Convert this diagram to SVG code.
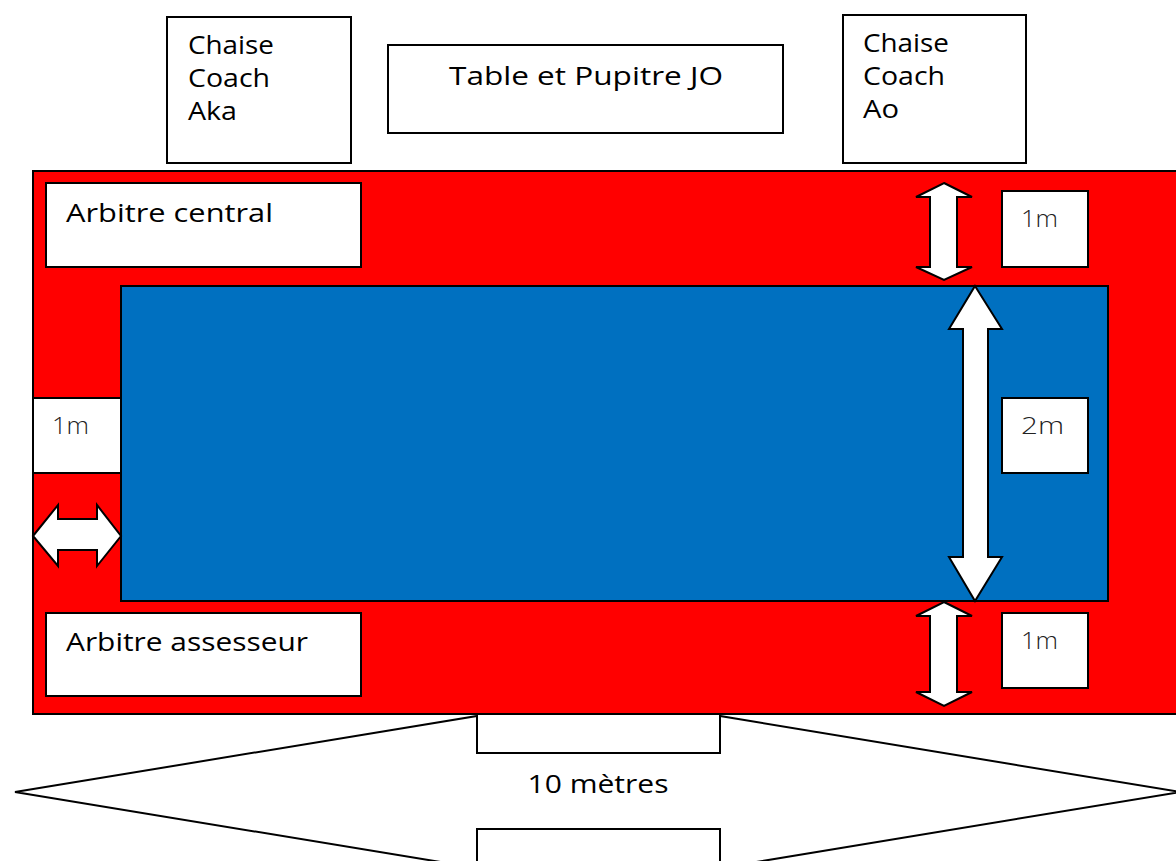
<svg xmlns="http://www.w3.org/2000/svg" width="1176" height="861" viewBox="0 0 1176 861">
<style>
.box{fill:#fff;stroke:#000;stroke-width:2}
.arr{fill:#fff;stroke:#000;stroke-width:2;stroke-linejoin:miter}
.t{font-family:"Open Sans","Liberation Sans",sans-serif;font-size:26px;fill:#000}
.m{font-family:"Open Sans","Liberation Sans",sans-serif;font-size:24px;fill:#222;font-weight:300}
</style>
<rect width="1176" height="861" fill="#fff"/>
<g id="connectors">
<polygon id="arrow-10m" class="arr" points="15,792 477,716 477,753 720,753 720,716 1180,792 720,868 720,829 477,829 477,868"/>
</g>
<g id="tatami-zone">
<rect x="33" y="171" width="1150" height="543" fill="#ff0000" stroke="#000" stroke-width="2"/>
</g>
<g id="tatami-competition">
<rect x="121" y="286" width="987" height="315" fill="#0070c0" stroke="#000" stroke-width="2"/>
</g>
<g id="connectors-dim">
<polygon class="arr" points="944,183 972,197 957,197 957,267 972,267 944,280 916,267 930,267 930,197 916,197"/>
<polygon class="arr" points="944,602 972,616 957,616 957,692 972,692 944,706 916,692 930,692 930,616 916,616"/>
<polygon class="arr" points="975,286 1002,329 988,329 988,557 1002,557 975,601 949,557 963,557 963,329 949,329"/>
<polygon class="arr" points="33,536 58,505 58,519 97,519 97,505 121,536 97,566 97,550 58,550 58,566"/>
</g>
<g id="chaise-aka">
<rect class="box" x="167" y="17" width="184" height="146"/>
<text class="t" x="188" y="54" textLength="86" lengthAdjust="spacingAndGlyphs">Chaise</text>
<text class="t" x="188" y="87" textLength="82" lengthAdjust="spacingAndGlyphs">Coach</text>
<text class="t" x="188" y="120" textLength="49" lengthAdjust="spacingAndGlyphs">Aka</text>
</g>
<g id="table-jo">
<rect class="box" x="388" y="45" width="395" height="88"/>
<text class="t" x="586" y="85" text-anchor="middle" textLength="274" lengthAdjust="spacingAndGlyphs">Table et Pupitre JO</text>
</g>
<g id="chaise-ao">
<rect class="box" x="843" y="15" width="183" height="148"/>
<text class="t" x="863" y="52" textLength="86" lengthAdjust="spacingAndGlyphs">Chaise</text>
<text class="t" x="863" y="85" textLength="82" lengthAdjust="spacingAndGlyphs">Coach</text>
<text class="t" x="863" y="118" textLength="36" lengthAdjust="spacingAndGlyphs">Ao</text>
</g>
<g id="arbitre-central">
<rect class="box" x="46" y="183" width="315" height="84"/>
<text class="t" x="66" y="222" textLength="207" lengthAdjust="spacingAndGlyphs">Arbitre central</text>
</g>
<g id="arbitre-assesseur">
<rect class="box" x="46" y="613" width="315" height="83"/>
<text class="t" x="66" y="651" textLength="242" lengthAdjust="spacingAndGlyphs">Arbitre assesseur</text>
</g>
<g id="label-1m-top">
<rect class="box" x="1002" y="191" width="86" height="76"/>
<text class="m" x="1021" y="227" textLength="37" lengthAdjust="spacingAndGlyphs">1m</text>
</g>
<g id="label-2m">
<rect class="box" x="1002" y="398" width="86" height="75"/>
<text class="m" x="1021" y="434" textLength="43" lengthAdjust="spacingAndGlyphs">2m</text>
</g>
<g id="label-1m-bottom">
<rect class="box" x="1002" y="613" width="86" height="75"/>
<text class="m" x="1021" y="649" textLength="37" lengthAdjust="spacingAndGlyphs">1m</text>
</g>
<g id="label-1m-left">
<rect class="box" x="33" y="398" width="88" height="75"/>
<text class="m" x="52" y="434" textLength="37" lengthAdjust="spacingAndGlyphs">1m</text>
</g>
<g id="label-10m">
<text class="t" x="598" y="793" text-anchor="middle" textLength="141" lengthAdjust="spacingAndGlyphs">10 mètres</text>
</g>
</svg>
